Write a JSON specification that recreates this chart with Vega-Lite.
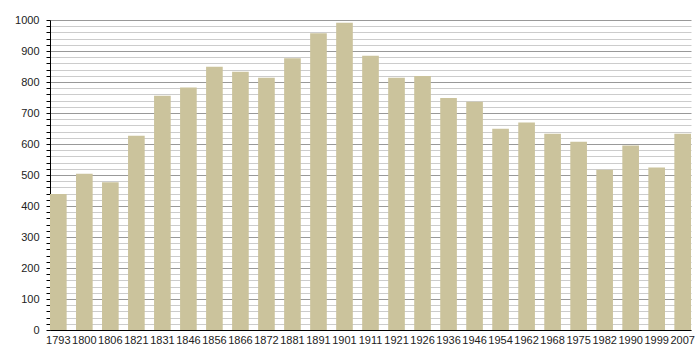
{
  "$schema": "https://vega.github.io/schema/vega-lite/v6.json",
  "autosize": "none",
  "width": 641,
  "height": 310,
  "padding": {"left": 50, "top": 20, "right": 9, "bottom": 30},
  "background": "white",
  "config": {"view": {"stroke": null}, "font": "Liberation Sans"},
  "data": {"values": [
    {"year": "1793", "pop": 439},
    {"year": "1800", "pop": 504},
    {"year": "1806", "pop": 477},
    {"year": "1821", "pop": 627},
    {"year": "1831", "pop": 756},
    {"year": "1846", "pop": 782},
    {"year": "1856", "pop": 849},
    {"year": "1866", "pop": 833},
    {"year": "1872", "pop": 814},
    {"year": "1881", "pop": 877},
    {"year": "1891", "pop": 957},
    {"year": "1901", "pop": 991},
    {"year": "1911", "pop": 885},
    {"year": "1921", "pop": 814},
    {"year": "1926", "pop": 819},
    {"year": "1936", "pop": 748},
    {"year": "1946", "pop": 736},
    {"year": "1954", "pop": 649},
    {"year": "1962", "pop": 669},
    {"year": "1968", "pop": 633},
    {"year": "1975", "pop": 607},
    {"year": "1982", "pop": 517},
    {"year": "1990", "pop": 595},
    {"year": "1999", "pop": 524},
    {"year": "2007", "pop": 633}
  ]},
  "mark": {"type": "bar", "color": "#cbc39c"},
  "encoding": {
    "x": {
      "field": "year", "type": "ordinal", "sort": null,
      "scale": {"paddingInner": 0.36, "paddingOuter": 0},
      "axis": {
        "title": null, "labelAngle": 0, "ticks": false,
        "domainColor": "#000", "domainWidth": 1,
        "labelFontSize": 11, "labelColor": "#222", "labelPadding": 4
      }
    },
    "y": {
      "field": "pop", "type": "quantitative",
      "scale": {"domain": [0, 1000], "nice": false},
      "axis": {
        "title": null,
        "values": [0,20,40,60,80,100,120,140,160,180,200,220,240,260,280,300,320,340,360,380,400,420,440,460,480,500,520,540,560,580,600,620,640,660,680,700,720,740,760,780,800,820,840,860,880,900,920,940,960,980,1000],
        "format": "d",
        "labelExpr": "datum.value % 100 === 0 ? datum.label : ''",
        "domainColor": "#000", "domainWidth": 1,
        "tickColor": "#000", "tickSize": 4,
        "gridColor": {"condition": {"test": "datum.value % 100 === 0", "value": "#999999"}, "value": "#cccccc"},
        "gridWidth": 1,
        "labelFontSize": 11, "labelColor": "#222", "labelPadding": 7
      }
    }
  }
}
